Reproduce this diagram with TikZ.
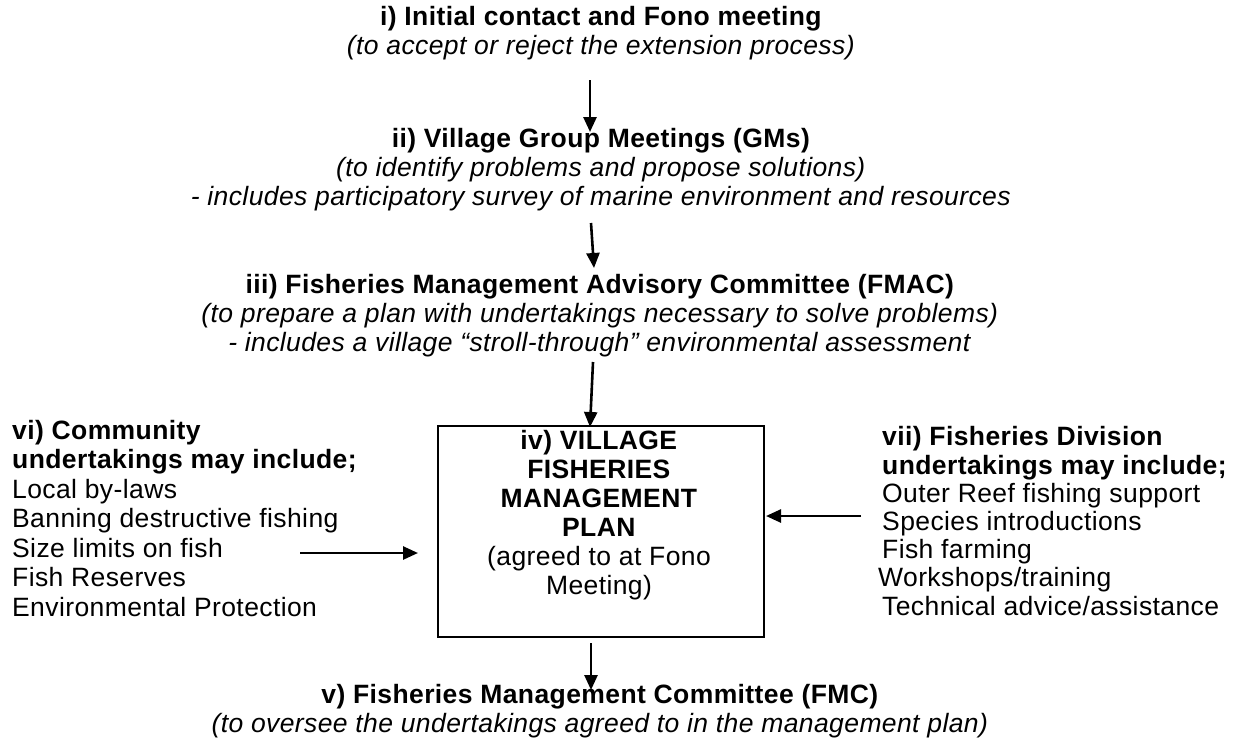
\documentclass[tikz,border=0pt]{standalone}
\usepackage{fontspec}
\setmainfont{Liberation Sans}[LetterSpace=1.5]
\usetikzlibrary{arrows.meta}
\begin{document}
\begin{tikzpicture}[x=1pt,y=-1pt,
  txt/.style={inner sep=0pt, align=center, font=\fontsize{26.5}{29}\selectfont, anchor=base},
  txtl/.style={inner sep=0pt, align=left, font=\fontsize{26.5}{29.5}\selectfont, anchor=base west},
  txtr/.style={inner sep=0pt, align=left, font=\fontsize{26.5}{28.2}\selectfont, anchor=base west},
  arr/.style={line width=2.6pt, -{Triangle[length=15pt,width=13pt]}},
  planbox/.style={draw, line width=1.6pt, inner sep=0pt}
]
\useasboundingbox (0,0) rectangle (1236,740);

% base anchor = baseline of last line
\node[txt] (i) at (601,54) {\textbf{i) Initial contact and Fono meeting}\\
  \textit{(to accept or reject the extension process)}};
\node[txt] (ii) at (601,205) {\textbf{ii) Village Group Meetings (GMs)}\\
  \textit{(to identify problems and propose solutions)}\\
  \textit{- includes participatory survey of marine environment and resources}};
\node[txt] (iii) at (600,351) {\textbf{iii) Fisheries Management Advisory Committee (FMAC)}\\
  \textit{(to prepare a plan with undertakings necessary to solve problems)}\\
  \textit{- includes a village ``stroll-through'' environmental assessment}};

\node[planbox, minimum width=326pt, minimum height=211pt] (box) at (601,531.5) {};
\node[txt] (iv) at (599,594) {\textbf{iv) VILLAGE}\\\textbf{FISHERIES}\\\textbf{MANAGEMENT}\\\textbf{PLAN}\\
  (agreed to at Fono\\Meeting)};

\node[txt] (v) at (600,732) {\textbf{v) Fisheries Management Committee (FMC)}\\
  \textit{(to oversee the undertakings agreed to in the management plan)}};

\node[txtl] (vi) at (12,616) {\textbf{vi) Community}\\
  \textbf{undertakings may include;}\\
  Local by-laws\\
  Banning destructive fishing\\
  Size limits on fish\\
  Fish Reserves\\
  Environmental Protection};

\node[txtr] (vii) at (882,615) {\textbf{vii) Fisheries Division}\\
  \textbf{undertakings may include;}\\
  Outer Reef fishing support\\
  Species introductions\\
  Fish farming\\
  \hspace*{-4pt}Workshops/training\\
  Technical advice/assistance};

\coordinate (a1s) at (590,80);  \coordinate (a1e) at (590,132);
\coordinate (a2s) at (591,223); \coordinate (a2e) at (594,268);
\coordinate (a3s) at (593,362); \coordinate (a3e) at (590,427);
\coordinate (a4s) at (591,643); \coordinate (a4e) at (591,690);
\coordinate (a5s) at (300,553); \coordinate (a5e) at (418,553);
\coordinate (a6s) at (861,516); \coordinate (a6e) at (766,516);

\draw[arr] (a1s) -- (a1e);
\draw[arr] (a2s) -- (a2e);
\draw[arr] (a3s) -- (a3e);
\draw[arr] (a4s) -- (a4e);
\draw[arr] (a5s) -- (a5e);
\draw[arr] (a6s) -- (a6e);
\end{tikzpicture}
\end{document}
